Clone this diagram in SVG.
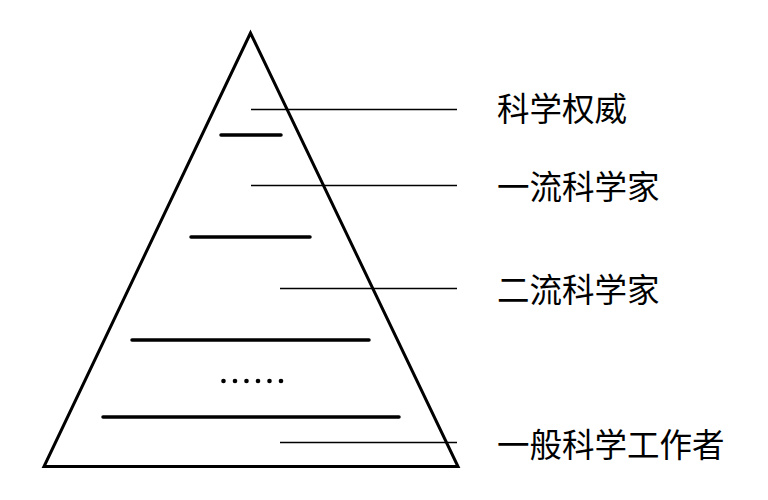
<svg xmlns="http://www.w3.org/2000/svg" width="768" height="500" viewBox="0 0 768 500">
<style>
.tri{fill:none;stroke:#000;stroke-width:3;stroke-linejoin:miter}
.thick{stroke:#000;stroke-width:3.5;stroke-linecap:round}
.thin{stroke:#000;stroke-width:1.5}
.lbl{font-family:"Noto Sans CJK SC","Noto Sans CJK JP",serif;font-size:32.5px;fill:#000;dominant-baseline:central}
</style>
<rect width="768" height="500" fill="#fff"/>
<g id="pyramid">
<polygon class="tri" points="250.5,33 44,466.5 458,466.5"/>
</g>
<g id="dividers">
<line class="thick" x1="221" y1="135" x2="281" y2="135"/>
<line class="thick" x1="191" y1="237" x2="310" y2="237"/>
<line class="thick" x1="132" y1="340" x2="369" y2="340"/>
<line class="thick" x1="103" y1="417" x2="399" y2="417"/>
<g id="ellipsis" fill="#000">
<circle cx="223.5" cy="381" r="2.3"/>
<circle cx="235" cy="381" r="2.3"/>
<circle cx="246.5" cy="381" r="2.3"/>
<circle cx="258" cy="381" r="2.3"/>
<circle cx="269.5" cy="381" r="2.3"/>
<circle cx="281" cy="381" r="2.3"/>
</g>
</g>
<g id="connectors">
<line class="thin" x1="251" y1="109.5" x2="457" y2="109.5"/>
<line class="thin" x1="251" y1="185.5" x2="457" y2="185.5"/>
<line class="thin" x1="280" y1="288.5" x2="457" y2="288.5"/>
<line class="thin" x1="280" y1="442.5" x2="457" y2="442.5"/>
</g>
<g id="label-authority"><text class="lbl" x="497" y="106">科学权威</text></g>
<g id="label-first"><text class="lbl" x="497" y="184.5">一流科学家</text></g>
<g id="label-second"><text class="lbl" x="497" y="287">二流科学家</text></g>
<g id="label-general"><text class="lbl" x="497" y="442">一般科学工作者</text></g>
</svg>
